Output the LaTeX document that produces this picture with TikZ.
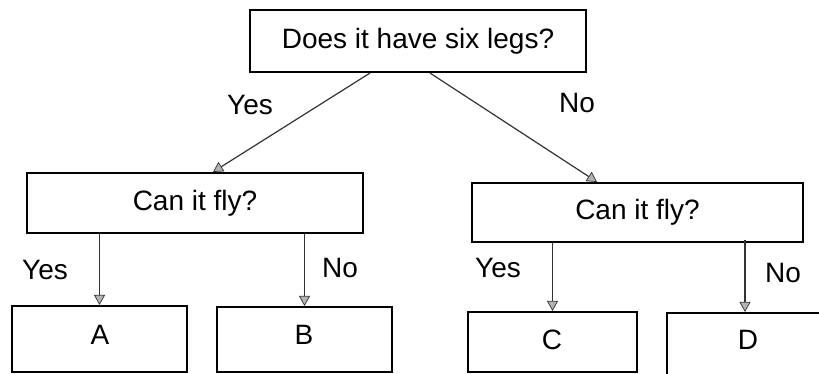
\documentclass[tikz,border=0pt]{standalone}
\usepackage{fontspec}
\setmainfont{Liberation Sans}
\usetikzlibrary{arrows.meta}
\tikzset{
  box/.style={draw=black, line width=2.1pt, rectangle, inner sep=0pt, font=\fontsize{28}{34}\selectfont},
  arr/.style={draw=black!80, line width=1.2pt, -{Triangle[width=11pt,length=10pt,fill=gray!60,color=black!80,line width=0.7pt]}},
  lbl/.style={font=\fontsize{28}{34}\selectfont, inner sep=0pt}
}
\begin{document}
\begin{tikzpicture}[x=1pt,y=-1pt]
\useasboundingbox (0,0) rectangle (819,374);
\clip (0,0) rectangle (819,374);
\fill[white] (0,0) rectangle (819,374);
\node[box, minimum width=336pt, minimum height=62pt] (top) at (418,41) {Does it have six legs?};
\node[box, minimum width=336pt, minimum height=60pt] (fl) at (195,203) {Can it fly?};
\node[box, minimum width=331pt, minimum height=59pt] (fr) at (637.5,212.5) {Can it fly?};
\node[box, minimum width=175pt, minimum height=66pt] (A) at (99.5,339) {};
\node[box, minimum width=175pt, minimum height=65pt] (B) at (304.5,339.5) {};
\node[box, minimum width=169pt, minimum height=60pt] (C) at (552.5,342) {};
\node[box, minimum width=163pt, minimum height=67pt] (D) at (748.5,346.5) {};
\node[lbl] at (100,335) {A};
\node[lbl] at (304,335) {B};
\node[lbl] at (552,340) {C};
\node[lbl] at (748,340) {D};
\draw[arr] ([xshift=-48pt]top.south) -- ([xshift=18pt]fl.north);
\draw[arr] ([xshift=12pt]top.south) -- ([xshift=-40.5pt]fr.north);
\draw[arr] (fl.south -| A.north) -- (A.north);
\draw[arr] (fl.south -| B.north) -- (B.north);
\draw[arr] (fr.south -| C.north) -- (C.north);
\draw[arr] ([xshift=-3.5pt,yshift=3pt]fr.south -| D.north) -- ([xshift=-3.5pt]D.north);
\node[lbl] (ly0) at (250,105) {Yes};
\node[lbl] (ln0) at (577,103) {No};
\node[lbl] (ly1) at (45,270) {Yes};
\node[lbl] (ln1) at (340,268) {No};
\node[lbl] (ly2) at (498,268) {Yes};
\node[lbl] (ln2) at (783,273) {No};
\end{tikzpicture}
\end{document}
